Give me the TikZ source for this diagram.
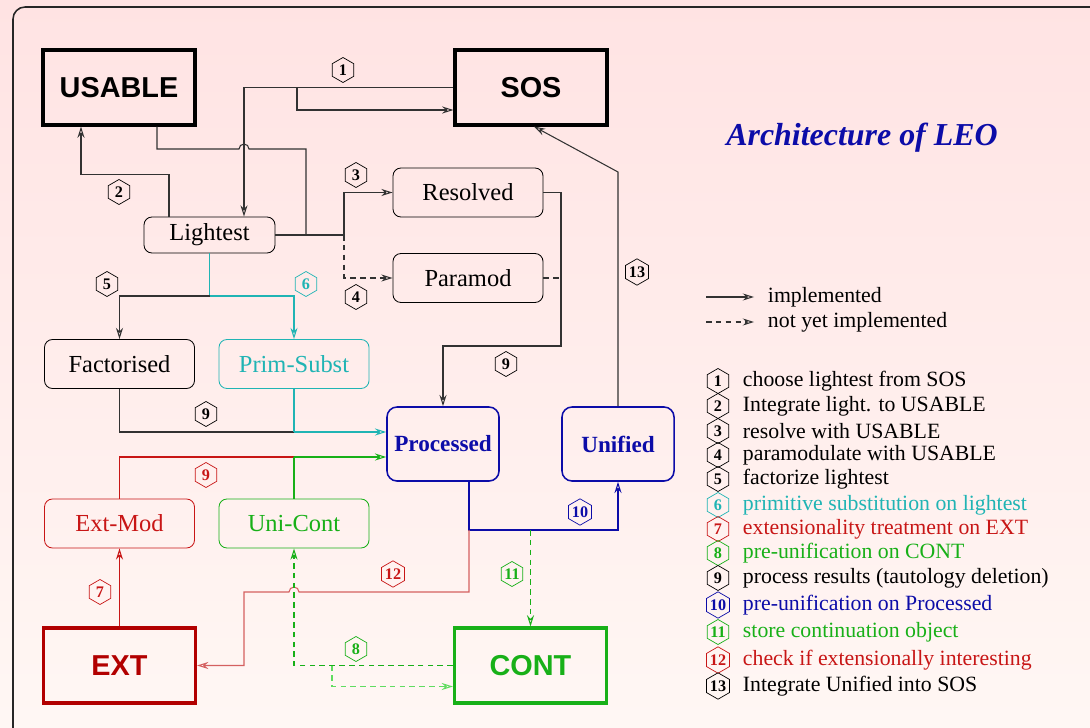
\documentclass[tikz,border=0pt]{standalone}
\usepackage{fontspec}
\setmainfont{Liberation Serif}
\setsansfont{Liberation Sans}
\usetikzlibrary{calc,shapes.geometric,arrows.meta}

\definecolor{bgtop}{RGB}{255,227,227}
\definecolor{bgbot}{RGB}{255,247,244}
\definecolor{lgray}{RGB}{50,50,50}
\definecolor{lcyan}{RGB}{32,180,180}
\definecolor{lred}{RGB}{200,22,22}
\definecolor{lredsoft}{RGB}{212,96,96}
\definecolor{extred}{RGB}{178,0,0}
\definecolor{lgreen}{RGB}{24,176,24}
\definecolor{lgreensoft}{RGB}{96,220,96}
\definecolor{lblue}{RGB}{12,12,168}

\tikzset{
	store/.style={draw, line width=2.2pt, minimum width=3.8cm, minimum height=1.875cm, inner sep=0pt, font=\sffamily\bfseries\fontsize{20.5}{24}\selectfont},
	stage/.style={draw, rounded corners=0.2cm, line width=0.6pt, minimum width=3.75cm, minimum height=1.225cm, inner sep=0pt, font=\fontsize{17.4}{20}\selectfont},
	result/.style={draw=lblue, text=lblue, rounded corners=0.25cm, line width=1.1pt, minimum width=2.8cm, minimum height=1.85cm, inner sep=0pt, font=\bfseries\fontsize{16.5}{20}\selectfont},
	hexa/.style={draw, regular polygon, regular polygon sides=6, shape border rotate=30, minimum size=0.625cm, inner sep=0pt, line width=0.5pt, font=\bfseries\fontsize{11.5}{12}\selectfont},
	wire/.style={line width=0.75pt, color=lgray},
	arr/.style={-{Stealth[open, length=8pt, width=5pt]}},
	notyet/.style={dash pattern=on 4pt off 3pt}
}

\begin{document}
\begin{tikzpicture}[x=0.025cm, y=-0.025cm]
			%%%%% START %%%%%
			\useasboundingbox (0,0) rectangle (1090,728);
			\clip (0,0) rectangle (1090,728);
			\shade[top color=bgtop, bottom color=bgbot] (0,0) rectangle (1090,728);
			\draw[line width=1.1pt, color=black!85, rounded corners=0.3cm] (13,760) -- (13,7) -- (1120,7);
			
			% stores
			\node[store] (usable) at (119,87.5) {USABLE};
			\node[store] (sos) at (531,87.5) {SOS};
			\node[store, color=extred] (ext) at (119.5,665.5) {EXT};
			\node[store, color=lgreen] (cont) at (530.5,665.5) {CONT};
			
			% stages
			\node[stage, minimum width=3.275cm, minimum height=0.9cm] (light) at (209.5,235) {Lightest};
			\node[stage] (resolved) at (468,192.5) {Resolved};
			\node[stage] (paramod) at (468,278) {Paramod};
			\node[stage] (fact) at (119.5,364) {Factorised};
			\node[stage, color=lcyan] (prim) at (294,364) {Prim-Subst};
			\node[stage, color=lred] (extmod) at (119.5,523.5) {Ext-Mod};
			\node[stage, color=lgreen] (unicont) at (294,523.5) {Uni-Cont};
			\node[result] (proc) at (443,444) {Processed};
			\node[result] (unif) at (618,444) {Unified};
			
			\node[font=\bfseries\itshape\fontsize{22.7}{26}\selectfont, text=lblue] (title) at (862,138) {Architecture of LEO};
			
			% 1: SOS -> Lightest
			\coordinate (j1) at (297,87.5);
			\draw[wire, arr] (sos.west) -| ($(light.north)+(34.5,0)$);
			\draw[wire, arr] (j1) |- ($(sos.west)+(0,22.5)$);
			
			% 2: Lightest -> USABLE
			\draw[wire, arr] ($(light.north)+(-40.5,0)$) |- ($(usable.south)+(-38,48)$) -- ($(usable.south)+(-38,0)$);
			\draw[wire] ($(usable.south)+(38,0)$) |- (239,149) arc[start angle=180, end angle=360, radius=5] -- (306,149) -- (306,235);
			
			% 3 and 4
			\coordinate (j3) at (344,235);
			\draw[wire] (light.east) -- (j3);
			\draw[wire, arr] (j3) |- (resolved.west);
			\draw[wire, arr, notyet] (j3) |- (paramod.west);
			
			% 9: Resolved -> Processed
			\draw[wire, arr] (resolved.east) -| (561,346) -| (proc.north);
			\draw[wire, notyet] (paramod.east) -- (561,278);
			
			% 5 and 6
			\coordinate (j5) at (209.5,296);
			\draw[wire, color=lcyan] (light.south) -- (j5);
			\draw[wire, arr] (j5) -| (fact.north);
			\draw[wire, arr, color=lcyan] (j5) -| (prim.north);
			
			% 9: Factorised, Prim-Subst -> Processed
			\coordinate (j9a) at (294,432);
			\draw[wire] (fact.south) |- (j9a);
			\draw[wire, color=lcyan] (prim.south) -- (j9a);
			\draw[wire, arr, color=lcyan] (j9a) -- (j9a -| proc.west);
			
			% 9: Ext-Mod, Uni-Cont -> Processed
			\coordinate (j9b) at (294,457);
			\draw[wire, color=lred] (extmod.north) |- (j9b);
			\draw[wire, color=lgreen] (unicont.north) -- (j9b);
			\draw[wire, arr, color=lgreen] (j9b) -- (j9b -| proc.west);
			
			% 10: Processed -> Unified
			\coordinate (j10) at (469,530);
			\draw[wire, arr, color=lblue] ($(proc.south)+(26,0)$) -- (j10) -| (unif.south);
			
			% 11: -> CONT
			\draw[wire, arr, notyet, color=lgreen] (530.5,530) -- (cont.north);
			
			% 12: Processed -> EXT
			\draw[wire, arr, color=lredsoft] (j10) -- (469,592) -- (299,592) arc[start angle=360, end angle=180, radius=5] -- (244,592) |- (ext.east);
			
			% 7: EXT -> Ext-Mod
			\draw[wire, arr, color=lred] (ext.north) -- (extmod.south);
			
			% 8: CONT -> Uni-Cont
			\draw[wire, arr, notyet, color=lgreen] (cont.west) -| (unicont.south);
			\draw[wire, arr, notyet, color=lgreensoft] (332,665.5) |- ($(cont.west)+(0,21)$);
			
			% 13: Unified -> SOS
			\draw[wire, arr] (unif.north) -- (618,172) -- ($(sos.south)+(3,0)$);
			
			% step markers
			\node[hexa] (h1) at (343,70) {1};
			\node[hexa] (h2) at (119,192) {2};
			\node[hexa] (h3) at (356,175) {3};
			\node[hexa] (h4) at (356,297) {4};
			\node[hexa] (h5) at (107,284) {5};
			\node[hexa, color=lcyan] (h6) at (306,284) {6};
			\node[hexa, color=lred] (h7) at (100,592) {7};
			\node[hexa, color=lgreen] (h8) at (356,649) {8};
			\node[hexa] (h9a) at (506,364) {9};
			\node[hexa] (h9b) at (206,414) {9};
			\node[hexa, color=lred] (h9c) at (206,475) {9};
			\node[hexa, color=lblue] (h10) at (580,512) {10};
			\node[hexa, color=lgreen] (h11) at (512,574) {11};
			\node[hexa, color=lred] (h12) at (393,574) {12};
			\node[hexa] (h13) at (637,272) {13};
			
			% legend
			\coordinate (impA) at (706,297);
			\coordinate (impB) at (754,297);
			\coordinate (notA) at (706,322);
			\coordinate (notB) at (754,322);
			\draw[wire, arr] (impA) -- (impB);
			\draw[wire, arr, notyet] (notA) -- (notB);
			\node[anchor=west, font=\fontsize{15.5}{18}\selectfont] (imp) at (763,297) {implemented};
			\node[anchor=west, font=\fontsize{15.5}{18}\selectfont] (not) at (763,322) {not yet implemented};
			
			\foreach \n/\col/\y/\txt in {
					1/black/381/{choose lightest from SOS},
					2/black/406/{Integrate light. to USABLE},
					3/black/431/{resolve with USABLE},
					4/black/455/{paramodulate with USABLE},
					5/black/479/{factorize lightest},
					6/lcyan/505/{primitive substitution on lightest},
					7/lred/529/{extensionality treatment on EXT},
					8/lgreen/553/{pre-unification on CONT},
					9/black/578/{process results (tautology deletion)},
					10/lblue/605/{pre-unification on Processed},
					11/lgreen/632/{store continuation object},
					12/lred/660/{check if extensionally interesting},
					13/black/686/{Integrate Unified into SOS}} {
				\node[hexa, color=\col] (leg\n) at (718,\y) {\n};
				\node[anchor=west, text=\col, font=\fontsize{15.5}{18}\selectfont] (legtxt\n) at (738,\y) {\txt};
			}
			%%%%% END %%%%%
\end{tikzpicture}
\end{document}
